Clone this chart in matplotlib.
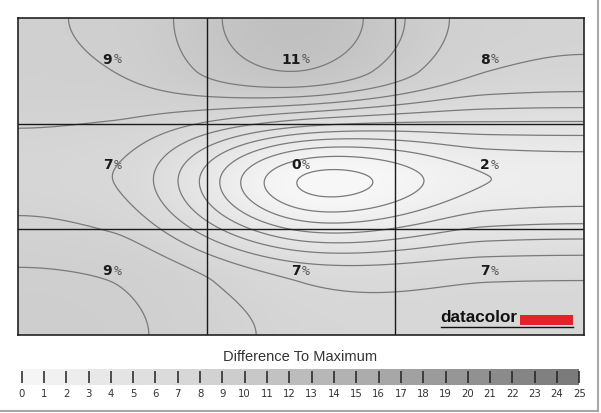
import numpy as np
import matplotlib
matplotlib.use("Agg")
import matplotlib.pyplot as plt
from matplotlib.colors import LinearSegmentedColormap
from matplotlib.lines import Line2D
from matplotlib.patches import Rectangle

# difference to maximum (%), rows top -> bottom, columns left -> right
row_top = [9, 11, 8]
row_mid = [7, 0, 2]
row_bot = [9, 7, 7]
scale_ticks = list(range(0, 26))
scale_title = "Difference To Maximum"

W, H = 601, 413
fig = plt.figure(figsize=(W / 100, H / 100), dpi=100)


def px_axes(x0, y0, x1, y1):
    return fig.add_axes([x0 / W, 1 - y1 / H, (x1 - x0) / W, (y1 - y0) / H])


def fx(x):
    return x / W


def fy(y):
    return 1 - y / H


vals = np.array([row_top, row_mid, row_bot], float)


def spline_1d(y, t, alpha=0.22):
    # cubic Hermite spline through nodes 0,1,2 with damped end slopes,
    # extended past the end nodes with a slope that fades out at the border
    M1 = 1.5 * (y[0] - 2 * y[1] + y[2])
    m0 = alpha * ((y[1] - y[0]) - M1 / 6)
    m2 = alpha * ((y[2] - y[1]) + M1 / 6)
    m = np.array([m0, (3 * (y[2] - y[0]) - m0 - m2) / 4, m2])
    tc = np.clip(t, 0, 2)
    k = np.minimum(tc.astype(int), 1)
    s = tc - k
    out = (y[k] * (2 * s ** 3 - 3 * s ** 2 + 1) + m[k] * (s ** 3 - 2 * s ** 2 + s)
           + y[k + 1] * (-2 * s ** 3 + 3 * s ** 2) + m[k + 1] * (s ** 3 - s ** 2))
    dl = np.clip(-t, 0, None)
    dr = np.clip(t - 2, 0, None)
    return out - m0 * (dl - dl ** 2) + m2 * (dr - dr ** 2)


def spline_basis(t):
    return np.array([spline_1d(np.eye(3)[n], t) for n in range(3)])


xs = np.linspace(0, 3, 361)
Bx = spline_basis(xs - 0.5)
Z = Bx.T @ vals @ Bx            # rows follow y, columns follow x
X, Y = np.meshgrid(xs, xs)

cmap = LinearSegmentedColormap.from_list(
    "dc", [(0, (0.97,) * 3), (9 / 25, (0.815,) * 3), (1, (0.47,) * 3)])

# main map
ax = px_axes(18, 18, 584, 335)
ax.imshow(Z, extent=(0, 3, 3, 0), cmap=cmap, vmin=0, vmax=25,
          interpolation="bilinear", aspect="auto")
ax.contour(X, Y, Z, levels=range(0, 12), colors="#7a7a7a", linewidths=0.9)
for k in (1, 2):
    ax.axvline(k, color="#1a1a1a", lw=1)
    ax.axhline(k, color="#1a1a1a", lw=1)
ax.set_xlim(0, 3)
ax.set_ylim(3, 0)
ax.set_xticks([])
ax.set_yticks([])
for s in ax.spines.values():
    s.set_color("#222222")
    s.set_linewidth(1.2)

for i in range(3):
    for j in range(3):
        ax.text(j + 0.5, i + 0.395, str(int(vals[i, j])), ha="right", va="center",
                fontsize=10, fontweight="bold", color="#1a1a1a", family="DejaVu Sans")
        ax.text(j + 0.505, i + 0.395, "%", ha="left", va="center",
                fontsize=9.5, color="#555555", family="DejaVu Sans Mono")

# datacolor logo
fig.text(fx(440), fy(318), "datacolor", ha="left", va="center", fontsize=12.3,
         fontweight="bold", color="#111111", family="Liberation Sans")
fig.add_artist(Rectangle((fx(520), fy(324.5)), fx(53), 10 / H, transform=fig.transFigure,
                         color="#e3212b", lw=0))
fig.add_artist(Line2D([fx(441), fx(573)], [fy(327), fy(327)],
                      transform=fig.transFigure, color="#111111", lw=1))

# scale bar
fig.text(fx(300.5), fy(357), scale_title, ha="center", va="center",
         fontsize=10.5, color="#333333", family="Liberation Sans")
cb = px_axes(18.3, 369, 582.7, 385)
edges = np.arange(0, 26)
cb.pcolormesh(edges, [0, 1], (edges[:-1] + 0.5)[None, :], cmap=cmap,
              vmin=0, vmax=25)
cb.vlines(scale_ticks, 0.12, 0.88, colors="#222222", lw=1.1)
cb.set_xlim(-0.15, 25.15)
cb.set_ylim(0, 1)
cb.set_yticks([])
cb.set_xticks(scale_ticks)
cb.tick_params(axis="x", length=0, pad=3, labelsize=7.3, labelcolor="#333333")
for s in cb.spines.values():
    s.set_visible(False)

# outer frame (right and bottom edges)
fig.add_artist(Line2D([0, fx(598)], [fy(411), fy(411)], transform=fig.transFigure,
                      color="#a8a8a8", lw=1.5))
fig.add_artist(Line2D([fx(598), fx(598)], [1, fy(411)], transform=fig.transFigure,
                      color="#a8a8a8", lw=1.5))

fig.savefig("out.png", dpi=100)
